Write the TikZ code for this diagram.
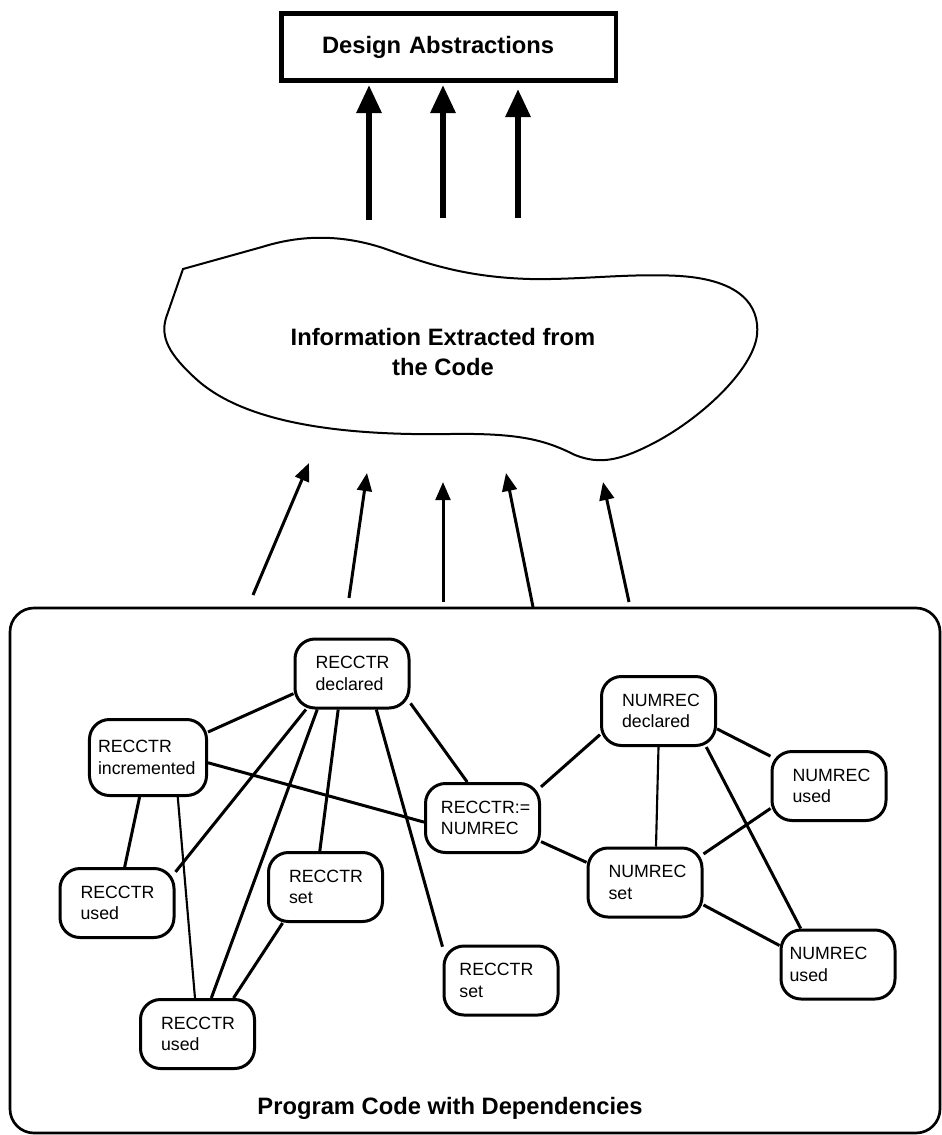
\documentclass[tikz,border=0pt]{standalone}
\usepackage{fontspec}
\setmainfont{Liberation Sans}
\usetikzlibrary{arrows.meta}

\tikzset{every picture/.style={line width=0.75pt}}
\tikzset{
  blk/.style={draw, line width=2.25pt, rounded corners=15pt, align=left, inner xsep=15.4pt, text width=54.7pt, minimum height=51.75pt, font=\fontsize{13.3pt}{16pt}\selectfont},
  blkm/.style={blk, inner xsep=11.6pt, text width=62.3pt},
  blkn/.style={blk, inner xsep=6.4pt, text width=72.7pt},
  dep/.style={line width=2.25pt},
  weakdep/.style={line width=1.6pt},
  feed/.style={line width=2.25pt, -{Triangle[length=13.5pt,width=11pt]}},
  lift/.style={line width=4.5pt, -{Triangle[length=21pt,width=18pt]}},
  bigtxt/.style={font=\fontsize{17.8pt}{21.8pt}\selectfont\bfseries},
}

\begin{document}
\begin{tikzpicture}[x=0.75pt,y=0.75pt,yscale=-1,xscale=1]
\useasboundingbox (0,0) rectangle (942,1135);

% Design box
\node[bigtxt, draw, line width=3.4pt, align=left, inner xsep=30.6pt, text width=189.7pt, minimum height=50.6pt] (design) at (448.5,47) {Design Abstractions};

%Shape: Cloud
\draw[line width=1.5pt] (183,269) -- (262,247) .. controls (300,235) and (340,234) .. (383,248) .. controls (420,261) and (460,277) .. (530,279) .. controls (580,280) and (630,273) .. (680,276) .. controls (740,280) and (760,305) .. (757,335) .. controls (753,370) and (700,420) .. (650,445) .. controls (620,460) and (600,465) .. (575,455) .. controls (545,440) and (520,433) .. (450,434) .. controls (330,436) and (240,420) .. (195,378) .. controls (170,355) and (160,338) .. (166,318) -- cycle;
\node[bigtxt, align=center] (info) at (443,352) {Information Extracted from\\the Code};

% Thick arrows
\coordinate (a1) at (369,220);
\coordinate (a2) at (443,218);
\coordinate (a3) at (518,218);
\draw[lift, shorten >=1.5pt] (a1) -- (a1 |- design.south);
\draw[lift, shorten >=1.5pt] (a2) -- (a2 |- design.south);
\draw[lift, shorten >=4.5pt] (a3) -- (a3 |- design.south);

% Arrows into the cloud
\coordinate (src1) at (253,595);
\coordinate (src2) at (349,598);
\coordinate (src3) at (443,602);
\coordinate (src4) at (533,607);
\coordinate (src5) at (629,602);
\coordinate (tip1) at (309,463);
\coordinate (tip2) at (367,473);
\coordinate (tip3) at (443,482);
\coordinate (tip4) at (506,473);
\coordinate (tip5) at (603,482);
\draw[feed] (src1) -- (tip1);
\draw[feed] (src2) -- (tip2);
\draw[feed] (src3) -- (tip3);
\draw[feed] (src4) -- (tip4);
\draw[feed] (src5) -- (tip5);

%Shape: Program code frame
\draw[line width=2pt, rounded corners=18pt] (10,608) rectangle (940,1133);
\node[bigtxt] (codelbl) at (450,1108) {Program Code with Dependencies};

% Dependency nodes
\node[blk] (rdecl) at (352,673.5) {RECCTR\\declared};
\node[blkn, text width=75pt, minimum height=57pt] (rinc) at (148,757.5) {RECCTR\\incremented};
\node[blk] (rused1) at (117,903) {RECCTR\\used};
\node[blk] (rset1) at (325.5,887) {RECCTR\\set};
\node[blk] (rused2) at (197.5,1034) {RECCTR\\used};
\node[blkm] (rassign) at (482.5,818) {RECCTR:=\\NUMREC};
\node[blkm] (rset2) at (501,980.5) {RECCTR\\set};
\node[blk] (ndecl) at (658.5,711) {NUMREC\\declared};
\node[blk] (nused1) at (829,786) {NUMREC\\used};
\node[blk] (nset) at (645,882.5) {NUMREC\\set};
\node[blkn] (nused2) at (838,964.5) {NUMREC\\used};

%Straight Lines
\draw[dep] (rdecl.199) -- (rinc.23);
\draw[dep] (rdecl.-142) -- (rused1.28);
\draw[dep] (rdecl.-134) -- (rused2.69);
\draw[dep] (rdecl.-111) -- (rset1.99);
\draw[dep] (rdecl.-56) -- (rset2.150);
\draw[dep] (rdecl.-27) -- (rassign.113);
\draw[dep] (rinc.-5) -- (rassign.184);
\draw[dep] (rinc) -- (rused1);
\draw[weakdep] (rinc.-53) -- (rused2.94);
\draw[dep] (rset1.-140) -- (rused2.45);
\draw[dep] (ndecl.-158) -- (rassign.28);
\draw[dep] (rassign.-22) -- (nset.161);
\draw[weakdep] (ndecl.south) -- (nset.73);
\draw[dep] (ndecl.-17) -- (nused1.153);
\draw[dep] (ndecl.-37) -- (nused2.136);
\draw[dep] (nset.26) -- (nused1.-159);
\draw[dep] (nset.-21) -- (nused2.162);

\end{tikzpicture}
\end{document}
